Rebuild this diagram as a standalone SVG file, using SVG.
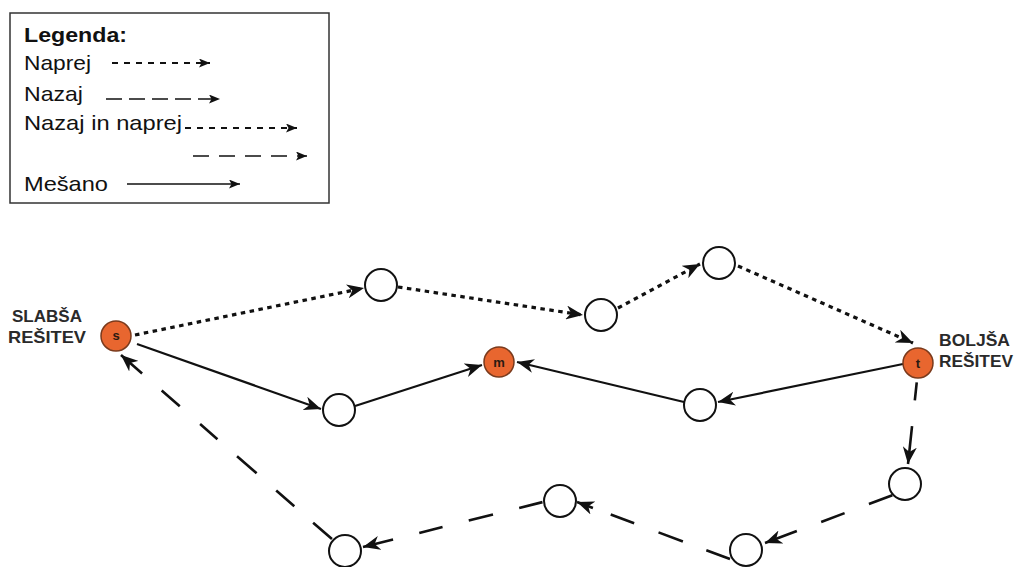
<svg xmlns="http://www.w3.org/2000/svg" width="1018" height="567" viewBox="0 0 1018 567">
  <style>
    .legend-box { fill: #ffffff; stroke: #333333; stroke-width: 1.5; }
    .legend-title { font-family: "Liberation Sans", Arial, sans-serif; font-weight: bold; font-size: 21px; fill: #111111; }
    .legend-text { font-family: "Liberation Sans", Arial, sans-serif; font-size: 21px; fill: #111111; }
    .side-label { font-family: "Liberation Sans", Arial, sans-serif; font-weight: bold; font-size: 16.5px; fill: #2a2a2a; }
    .node { fill: #ffffff; stroke: #111111; stroke-width: 2; }
    .key-node { fill: #E8662F; stroke: #7a3a1c; stroke-width: 1.5; }
    .key-letter { font-family: "Liberation Sans", Arial, sans-serif; font-weight: bold; font-size: 13px; fill: #2a1a12; text-anchor: middle; }
    .fwd { fill: none; stroke: #111111; stroke-width: 3.2; stroke-dasharray: 4.5 4.5; }
    .bwd { fill: none; stroke: #111111; stroke-width: 2.6; }
    .mix { fill: none; stroke: #111111; stroke-width: 2.2; }
    .lg-fwd { fill: none; stroke: #111111; stroke-width: 2; stroke-dasharray: 6 6; }
    .lg-bwd { fill: none; stroke: #111111; stroke-width: 1.6; stroke-dasharray: 16 7; }
    .lg-bwd2 { fill: none; stroke: #111111; stroke-width: 1.6; stroke-dasharray: 16 10; }
    .lg-mix { fill: none; stroke: #111111; stroke-width: 1.6; }
  </style>
  <defs>
    <marker id="head" markerUnits="userSpaceOnUse" markerWidth="18" markerHeight="14" refX="17" refY="7" orient="auto">
      <path d="M0,0 L17,7 L0,14 L5,7 Z" fill="#111111"/>
    </marker>
    <marker id="head-rev" markerUnits="userSpaceOnUse" markerWidth="18" markerHeight="14" refX="17" refY="7" orient="auto-start-reverse">
      <path d="M0,0 L17,7 L0,14 L5,7 Z" fill="#111111"/>
    </marker>
    <marker id="head-small" markerUnits="userSpaceOnUse" markerWidth="12" markerHeight="9" refX="11" refY="4.5" orient="auto">
      <path d="M0,0 L11,4.5 L0,9 L2.5,4.5 Z" fill="#111111"/>
    </marker>
  </defs>

  <rect width="1018" height="567" fill="#ffffff"/>

  <!-- Legend -->
  <g id="legend">
    <rect class="legend-box" x="10" y="13" width="319" height="190"/>
    <text class="legend-title" x="24" y="42" textLength="103" lengthAdjust="spacingAndGlyphs">Legenda:</text>
    <text class="legend-text" x="24" y="70" textLength="67" lengthAdjust="spacingAndGlyphs">Naprej</text>
    <line class="lg-fwd" x1="112" y1="63" x2="210" y2="63" marker-end="url(#head-small)"/>
    <text class="legend-text" x="24" y="101" textLength="59" lengthAdjust="spacingAndGlyphs">Nazaj</text>
    <line class="lg-bwd" x1="106" y1="99" x2="220" y2="99" marker-end="url(#head-small)"/>
    <text class="legend-text" x="24" y="130" textLength="158" lengthAdjust="spacingAndGlyphs">Nazaj in naprej</text>
    <line class="lg-fwd" x1="185" y1="128" x2="297" y2="128" marker-end="url(#head-small)"/>
    <line class="lg-bwd2" x1="193" y1="156" x2="307" y2="156" marker-end="url(#head-small)"/>
    <text class="legend-text" x="24" y="191" textLength="84" lengthAdjust="spacingAndGlyphs">Mešano</text>
    <line class="lg-mix" x1="127" y1="184" x2="240" y2="184" marker-end="url(#head-small)"/>
  </g>

  <!-- Connectors -->
  <g id="connectors">
    <!-- forward search (dotted) -->
    <line class="fwd" x1="135" y1="335" x2="364" y2="288" marker-end="url(#head)"/>
    <line class="fwd" x1="398" y1="287" x2="583" y2="315" marker-end="url(#head)"/>
    <line class="fwd" x1="618" y1="308" x2="700" y2="264" marker-end="url(#head)"/>
    <line class="fwd" x1="738" y1="266" x2="913" y2="343" marker-end="url(#head)"/>
    <!-- mixed search (solid) -->
    <line class="mix" x1="137" y1="344" x2="321" y2="409" marker-end="url(#head)"/>
    <line class="mix" x1="355" y1="406" x2="482" y2="365" marker-end="url(#head)"/>
    <line class="mix" x1="903" y1="364" x2="718" y2="402" marker-end="url(#head)"/>
    <line class="mix" x1="684" y1="402" x2="517" y2="362" marker-end="url(#head)"/>
    <!-- backward search (long dashes), drawn from the arrow tip back to the source -->
    <line class="bwd" x1="908" y1="464" x2="917" y2="380" stroke-dasharray="38 26 18 30" marker-start="url(#head-rev)"/>
    <line class="bwd" x1="765" y1="543" x2="893" y2="495" stroke-dasharray="34 26 25 26 25 10" marker-start="url(#head-rev)"/>
    <line class="bwd" x1="577" y1="502" x2="730" y2="559" stroke-dasharray="17 19 25 26 26 25 26 10" marker-start="url(#head-rev)"/>
    <line class="bwd" x1="363" y1="547" x2="543" y2="502" stroke-dasharray="31 27 24 27 25 27 24 10" marker-start="url(#head-rev)"/>
    <line class="bwd" x1="121" y1="355" x2="333" y2="540" stroke-dasharray="28 26 24 27 23 26 26 26 24 25 25 10" marker-start="url(#head-rev)"/>
  </g>

  <!-- Nodes -->
  <g id="node-s">
    <circle class="key-node" cx="116" cy="336" r="15"/>
    <text class="key-letter" x="116" y="340">s</text>
    <text class="side-label" x="47" y="322" text-anchor="middle" textLength="70" lengthAdjust="spacingAndGlyphs">SLABŠA</text>
    <text class="side-label" x="47" y="343" text-anchor="middle" textLength="78" lengthAdjust="spacingAndGlyphs">REŠITEV</text>
  </g>
  <g id="node-a"><circle class="node" cx="381" cy="285" r="16"/></g>
  <g id="node-c"><circle class="node" cx="601" cy="315" r="16"/></g>
  <g id="node-d"><circle class="node" cx="719" cy="263" r="16"/></g>
  <g id="node-t">
    <circle class="key-node" cx="918" cy="363" r="15"/>
    <text class="key-letter" x="918" y="368">t</text>
    <text class="side-label" x="939" y="346" textLength="71" lengthAdjust="spacingAndGlyphs">BOLJŠA</text>
    <text class="side-label" x="939" y="367" textLength="74" lengthAdjust="spacingAndGlyphs">REŠITEV</text>
  </g>
  <g id="node-b"><circle class="node" cx="339" cy="410" r="16"/></g>
  <g id="node-m">
    <circle class="key-node" cx="499" cy="362" r="15"/>
    <text class="key-letter" x="499" y="366.5">m</text>
  </g>
  <g id="node-e"><circle class="node" cx="700" cy="405" r="16"/></g>
  <g id="node-i"><circle class="node" cx="905" cy="484" r="16"/></g>
  <g id="node-h"><circle class="node" cx="746" cy="550" r="16"/></g>
  <g id="node-g"><circle class="node" cx="560" cy="501" r="16"/></g>
  <g id="node-f"><circle class="node" cx="345" cy="551" r="16"/></g>
</svg>
